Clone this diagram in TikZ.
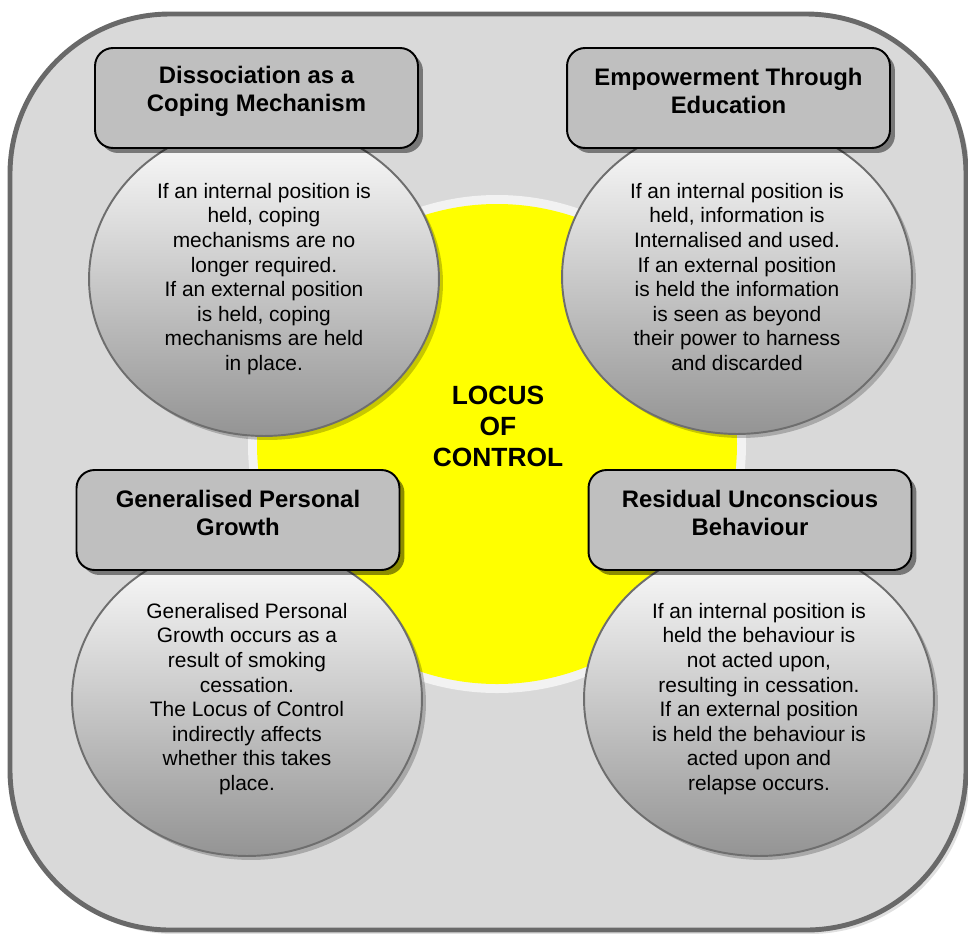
\documentclass[tikz,border=0pt]{standalone}
\usepackage{fontspec}
\setmainfont{Liberation Sans}
\usepackage{xcolor}
\definecolor{locpanel}{RGB}{217,217,217}
\definecolor{locframe}{RGB}{105,105,105}
\definecolor{lochalo}{RGB}{242,242,242}
\definecolor{locyellow}{RGB}{255,255,0}
\definecolor{locbox}{RGB}{191,191,191}
\definecolor{locedge}{RGB}{110,110,110}
\usepackage{tikz}
\usetikzlibrary{shapes.geometric, shadows}

\tikzset{
  headbox/.style={draw=black, line width=1.1pt, fill=locbox, rounded corners=0.36cm,
    minimum width=6.46cm, minimum height=2.0cm,
    drop shadow={shadow xshift=0.1cm, shadow yshift=-0.1cm, fill=black, opacity=0.45}},
  headtext/.style={align=center, font=\fontsize{13.6}{15.9}\selectfont\bfseries},
  bubble/.style={ellipse, draw=locedge, line width=1.1pt, inner sep=0pt,
    minimum width=7.0cm, minimum height=6.28cm,
    top color=white, bottom color=black!42,
    drop shadow={shadow xshift=0.08cm, shadow yshift=-0.08cm, fill=black, opacity=0.22},
    align=center, font=\fontsize{11.9}{14}\selectfont}
}

\begin{document}
\begin{tikzpicture}[x=0.02cm, y=-0.02cm]
  \useasboundingbox (0,0) rectangle (968,934);
  % outer panel
  \fill[black, opacity=0.12, rounded corners=3.2cm] (14,18) rectangle (970,934);
  \draw[locframe, line width=2.8pt, fill=locpanel, rounded corners=3.2cm]
       (10,14) rectangle (966,930);
  % yellow core with its pale rim
  \fill[lochalo] (497,444) circle (249);
  \fill[locyellow] (497,444) circle (240);
  % four bubbles
  \node[bubble] (copebub) at (264,279) {If an internal position is\\held, coping\\mechanisms are no\\longer required.\\If an external position\\is held, coping\\mechanisms are held\\in place.};
  \node[bubble] (edubub) at (737,277) {If an internal position is\\held, information is\\Internalised and used.\\If an external position\\is held the information\\is seen as beyond\\their power to harness\\and discarded};
  \node[bubble] (growbub) at (247,699) {Generalised Personal\\Growth occurs as a\\result of smoking\\cessation.\\The Locus of Control\\indirectly affects\\whether this takes\\place.};
  \node[bubble] (habitbub) at (759,699) {If an internal position is\\held the behaviour is\\not acted upon,\\resulting in cessation.\\If an external position\\is held the behaviour is\\acted upon and\\relapse occurs.};
  % heading boxes
  \node[headbox] (cope) at (256.5,98) {};
  \node[headbox] (edu) at (728.5,98) {};
  \node[headbox] (grow) at (238,520) {};
  \node[headbox] (habit) at (750,520) {};
  \node[headtext, yshift=0.14cm] (copelbl) at (cope.center) {Dissociation as a\\Coping Mechanism};
  \node[headtext, yshift=0.14cm] (edulbl) at (edu.center) {Empowerment Through\\Education};
  \node[headtext, yshift=0.14cm] (growlbl) at (grow.center) {Generalised Personal\\Growth};
  \node[headtext, yshift=0.14cm] (habitlbl) at (habit.center) {Residual Unconscious\\Behaviour};
  % centre title
  \node[align=center, font=\fontsize{15}{17.6}\selectfont\bfseries] (locus) at (498,426) {LOCUS\\OF\\CONTROL};
\end{tikzpicture}
\end{document}
